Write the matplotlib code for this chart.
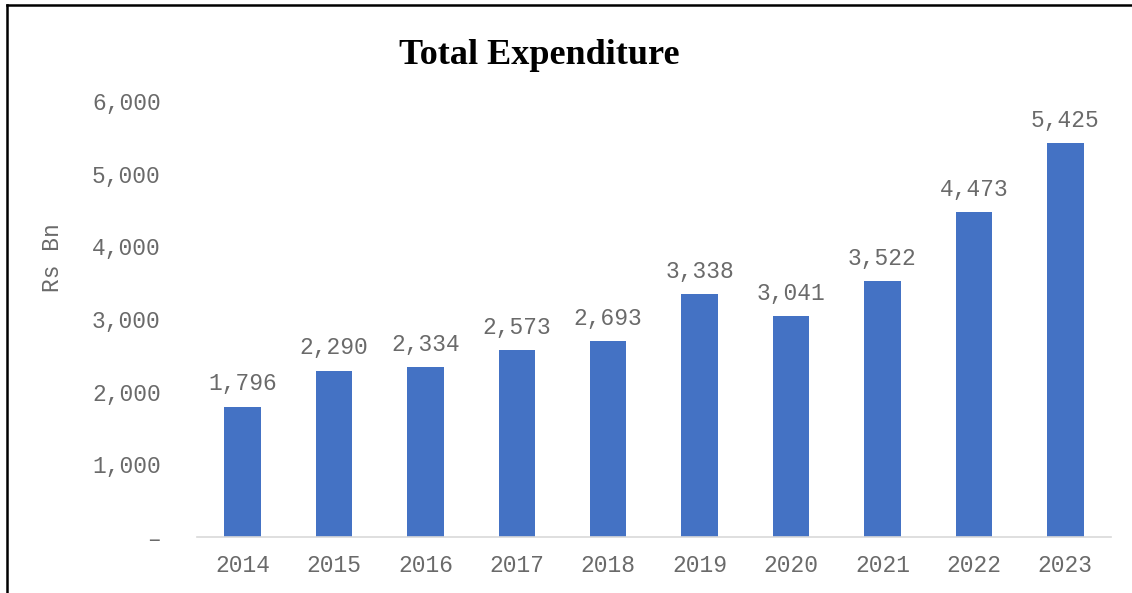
import matplotlib.pyplot as plt
from matplotlib.lines import Line2D
from matplotlib.ticker import FuncFormatter

years = ["2014", "2015", "2016", "2017", "2018", "2019", "2020", "2021", "2022", "2023"]
expenditure = [1796, 2290, 2334, 2573, 2693, 3338, 3041, 3522, 4473, 5425]
y_ticks = [0, 1000, 2000, 3000, 4000, 5000, 6000]

BAR_COLOR = "#4472C4"
TEXT_GRAY = "#6a6a6a"
MONO = "Liberation Mono"
FS = 16.5

fig = plt.figure(figsize=(11.32, 5.93), dpi=100)
ax = fig.add_axes([0.1739, 0.0944, 0.8075, 0.7353])

x = range(len(years))
bars = ax.bar(x, expenditure, width=0.40, color=BAR_COLOR, zorder=2)

# value labels above each bar
for b, v in zip(bars, expenditure):
    ax.annotate(f"{v:,}", (b.get_x() + b.get_width() / 2, v),
                xytext=(0, 8), textcoords="offset points",
                ha="center", va="bottom", fontsize=FS,
                family=MONO, color=TEXT_GRAY)

ax.set_xlim(-0.5, len(years) - 0.5)
ax.set_ylim(0, 6000)
ax.set_xticks(list(x))
ax.set_xticklabels(years)
ax.set_yticks(y_ticks)
ax.yaxis.set_major_formatter(FuncFormatter(lambda v, p: "\u2013" if v == 0 else f"{int(v):,}"))

for lbl in ax.get_xticklabels() + ax.get_yticklabels():
    lbl.set_family(MONO)
    lbl.set_fontsize(FS)
    lbl.set_color(TEXT_GRAY)

ax.tick_params(axis="both", length=0)
ax.tick_params(axis="y", pad=26)
ax.tick_params(axis="x", pad=12)

for side in ["top", "right", "left"]:
    ax.spines[side].set_visible(False)
ax.spines["bottom"].set_color("#d9d9d9")
ax.spines["bottom"].set_linewidth(1.2)

fig.text(0.046, 0.565, "Rs Bn", rotation=90, ha="center", va="center",
         fontsize=FS, family=MONO, color=TEXT_GRAY)

fig.text(0.476, 0.906, "Total Expenditure", ha="center", va="center",
         fontsize=26, fontweight="bold", family="Liberation Serif", color="black")

# frame around the chart area (left and top edges)
fig.add_artist(Line2D([0.0065, 0.0065], [0.0, 0.991], transform=fig.transFigure,
                      color="black", linewidth=1.8))
fig.add_artist(Line2D([0.0065, 1.0], [0.991, 0.991], transform=fig.transFigure,
                      color="black", linewidth=1.8))

fig.savefig("out.png", dpi=100)
